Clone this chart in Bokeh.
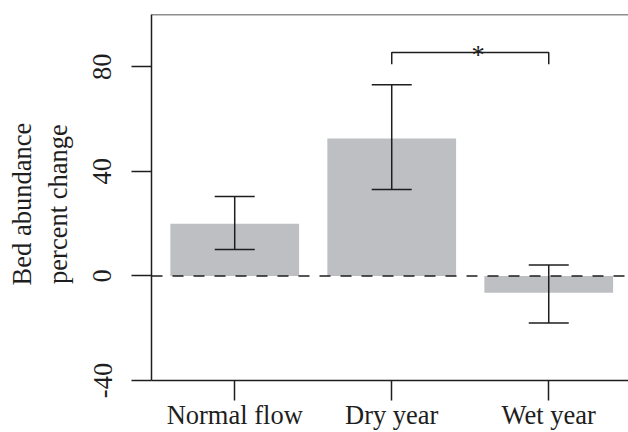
from bokeh.plotting import figure
from bokeh.models import ColumnDataSource, Whisker, TeeHead, Span, FixedTicker, Range1d
from bokeh.core.properties import value
from bokeh.embed import file_html
from bokeh.resources import INLINE

# ---- data ----
categories = ["Normal flow", "Dry year", "Wet year"]
positions = [1, 2, 3]
means = [20.0, 52.6, -6.4]
upper = [30.4, 73.1, 4.2]
lower = [10.1, 33.1, -18.0]
y_ticks = [-40, 0, 40, 80]
y_tick_labels = ["-40", "0", "40", "80"]
bracket_pair = [2, 3]          # positions compared
bracket_top = 85.5
bracket_bottom = 81.0
star_x = [2.55]
star_y = [84.5]
star_label = ["*"]
y_title_lines = ["Bed abundance", "percent change"]

FONT = "Liberation Serif"
INK = "#1e1e1e"
BAR = "#bebfc3"
FS = "26.5px"

p = figure(width=628, height=432,
           x_range=Range1d(0.47, 3.508), y_range=Range1d(-40, 100),
           output_backend="svg", toolbar_location=None,
           min_border_left=151, min_border_right=0,
           min_border_top=14, min_border_bottom=52)
p.outline_line_color = None
p.grid.visible = False
p.background_fill_color = "white"
p.border_fill_color = "white"

src = ColumnDataSource(dict(x=positions, top=means, upper=upper, lower=lower, cat=categories))
p.vbar(x="x", top="top", bottom=0, width=0.82, source=src,
       fill_color=BAR, line_color=None)

# zero reference line
p.add_layout(Span(location=0, dimension="width", line_color=INK,
                  line_width=1.5, line_dash="11 10"))
# top border line
p.add_layout(Span(location=100, dimension="width", line_color=INK, line_width=1.5))

# error bars
w = Whisker(base="x", upper="upper", lower="lower", source=src, dimension="height",
            line_color=INK, line_width=1.5, level="overlay",
            upper_head=TeeHead(size=40, line_color=INK, line_width=1.5),
            lower_head=TeeHead(size=40, line_color=INK, line_width=1.5))
p.add_layout(w)

# significance bracket
p.line(x=[bracket_pair[0], bracket_pair[0], bracket_pair[1], bracket_pair[1]],
       y=[bracket_bottom, bracket_top, bracket_top, bracket_bottom],
       line_color=INK, line_width=1.5)
p.text(x=star_x, y=star_y, text=star_label, text_font=value(FONT),
       text_font_size=FS, text_color=INK, text_align="center",
       text_baseline="alphabetic")

# axes
xa = p.xaxis[0]
xa.ticker = FixedTicker(ticks=positions)
xa.major_label_overrides = {pos: c for pos, c in zip(positions, categories)}
ya = p.yaxis[0]
ya.ticker = FixedTicker(ticks=y_ticks)
ya.major_label_overrides = {t: s for t, s in zip(y_ticks, y_tick_labels)}
ya.major_label_orientation = "vertical"
ya.axis_label = "\n".join(line + "\u00a0\u00a0" for line in y_title_lines)

for ax in (xa, ya):
    ax.axis_line_color = INK
    ax.axis_line_width = 1.5
    ax.major_tick_line_color = INK
    ax.major_tick_line_width = 1.5
    ax.major_tick_out = 20
    ax.major_tick_in = 0
    ax.minor_tick_line_color = None
    ax.major_label_text_font = FONT
    ax.major_label_text_font_size = FS
    ax.major_label_text_color = INK
    ax.axis_label_text_font = FONT
    ax.axis_label_text_font_size = FS
    ax.axis_label_text_font_style = "normal"
    ax.axis_label_text_color = INK

xa.major_label_standoff = -1
ya.major_label_standoff = 20
ya.axis_label_standoff = 18

open("out.html", "w").write(file_html(p, INLINE))
